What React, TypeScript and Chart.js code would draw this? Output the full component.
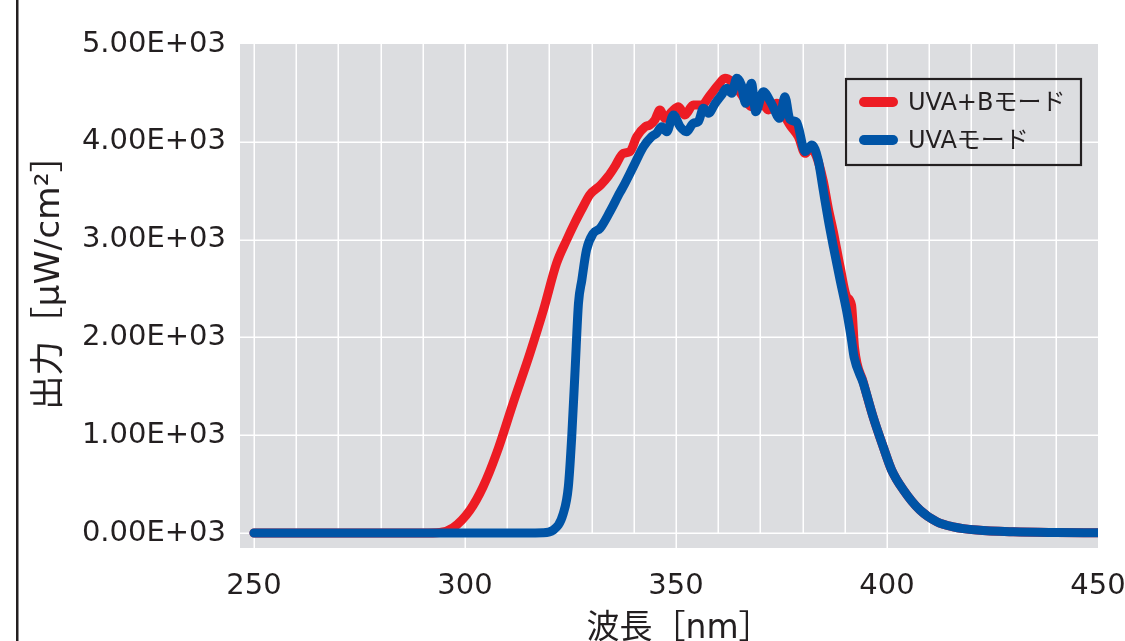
import React, { useEffect, useRef } from 'react';
import { Chart, registerables } from 'chart.js';

Chart.register(...registerables);

// ---------- data ----------
const seriesLabels = ['UVA+Bモード', 'UVAモード'];
const seriesColors = ['#ed1c24', '#0054a6'];

const xTickValues = [250, 300, 350, 400, 450];
const xTickLabels = ['250', '300', '350', '400', '450'];
const yTickValues = [0, 1000, 2000, 3000, 4000, 5000];
const yTickLabels = ['0.00E+03', '1.00E+03', '2.00E+03', '3.00E+03', '4.00E+03', '5.00E+03'];
const xAxisTitle = '波長［nm］';
const yAxisTitle = '出力［μW/cm²］';

const uvabWavelengths = [
  250, 260, 270, 280, 290, 294, 297.2, 301.2, 304.3, 307.5, 311.4, 315.4, 318.6, 321.7,
  324.1, 326, 328, 329.6, 332.2, 334, 335.5, 337.5, 339.1, 340.7, 342.7, 343.8, 345, 346.2,
  347.4, 349, 350.6, 352.1, 354.1, 356.1, 358.1, 360, 361.6, 363.2, 364.8, 366.4, 367.9,
  369.9, 371.9, 373.9, 375.4, 377, 379, 380.6, 381.8, 383.2, 384.9, 386.1, 387.3, 388.9,
  390.4, 391.6, 392.3, 394.4, 396.7, 399.1, 401.1, 403.9, 407.8, 411.8, 415.7, 421.3, 430,
  440, 450,
];
const uvabValues = [
  0, 0, 0, 0, 0, 5, 55, 235, 473, 815, 1326, 1837, 2280, 2757,
  2996, 3170, 3336, 3460, 3560, 3650, 3746, 3882, 3899, 4052, 4154, 4172, 4223, 4325,
  4240, 4308, 4359, 4274, 4376, 4376, 4478, 4581, 4649, 4615, 4530, 4427, 4359,
  4427, 4325, 4393, 4291, 4172, 4052, 3882, 3930, 3860, 3600, 3320, 3080, 2720,
  2420, 2330, 1900, 1540, 1189, 882, 644, 440, 235, 116, 64, 31, 12,
  5, 3,
];

const uvaWavelengths = [
  250, 260, 270, 280, 290, 300, 310, 318.5, 320.9, 323.3, 324.5, 325.3, 326.1, 326.9, 327.7,
  328.8, 330.4, 332, 334.4, 336.7, 337.5, 339.9, 342.3, 344.2, 345.4, 346.6, 347.8, 349.4,
  351, 352.5, 354.1, 355.3, 356.5, 357.7, 359.3, 360.8, 362, 363.2, 364.4, 365.5, 366.5,
  367.9, 368.9, 370.7, 372.6, 374.6, 375.8, 377, 378.6, 380.6, 382.2, 383.7, 384.9, 386.1,
  387.3, 388.9, 390.4, 391.6, 392.2, 394.4, 396.7, 399.1, 401.1, 403.9, 407.8, 411.8, 415.7,
  421.3, 430, 440, 450,
];
const uvaValues = [
  0, 0, 0, 0, 0, 0, 0, 3, 30, 200, 473, 985, 1667, 2349, 2587,
  2894, 3064, 3115, 3290, 3480, 3541, 3746, 3950, 4052, 4087, 4154, 4103, 4274,
  4154, 4103, 4189, 4206, 4342, 4291, 4393, 4478, 4547, 4496, 4649, 4581, 4393,
  4598, 4308, 4513, 4393, 4240, 4461, 4230, 4200, 3900, 3967, 3814, 3507, 3200,
  2928, 2587, 2280, 1973, 1800, 1531, 1189, 882, 644, 440, 235, 116, 64,
  31, 12, 5, 3,
];

// ---------- styling ----------
const PLOT_BG = '#dcdde0';
const TEXT_COLOR = '#231f20';
const TICK_FONT_FAMILY = "'DejaVu Sans', 'Noto Sans CJK JP', sans-serif";

const decorPlugin = {
  id: 'decor',
  beforeDraw(chart: any) {
    const { ctx, chartArea: a, scales } = chart;
    const x = scales.x;
    const y = scales.y;
    ctx.save();
    // outer frame line on the left
    ctx.fillStyle = TEXT_COLOR;
    ctx.fillRect(16, 0, 2.5, chart.height);
    // plot background
    ctx.fillStyle = PLOT_BG;
    ctx.fillRect(a.left, a.top, a.right - a.left, a.bottom - a.top);
    // grid
    ctx.strokeStyle = '#ffffff';
    ctx.lineWidth = 1.5;
    const zeroY = y.getPixelForValue(0);
    for (let v = 250; v < 450; v += 10) {
      const px = Math.round(x.getPixelForValue(v)) + 0.25;
      const bottom = v % 50 === 0 ? a.bottom : zeroY;
      ctx.beginPath();
      ctx.moveTo(px, a.top);
      ctx.lineTo(px, bottom);
      ctx.stroke();
    }
    for (const v of yTickValues) {
      if (v === 5000) continue;
      const py = Math.round(y.getPixelForValue(v)) + 0.25;
      ctx.beginPath();
      ctx.moveTo(a.left, py);
      ctx.lineTo(a.right, py);
      ctx.stroke();
    }
    // axis titles
    ctx.fillStyle = TEXT_COLOR;
    ctx.textAlign = 'center';
    ctx.textBaseline = 'middle';
    ctx.font = `33px ${TICK_FONT_FAMILY}`;
    ctx.fillText(xAxisTitle, (a.left + a.right) / 2 + 10, 629);
    ctx.save();
    ctx.font = `34.5px ${TICK_FONT_FAMILY}`;
    ctx.translate(50, 274);
    ctx.rotate(-Math.PI / 2);
    ctx.fillText(yAxisTitle, 0, 0);
    ctx.restore();
    ctx.restore();
  },
  afterDraw(chart: any) {
    const { ctx } = chart;
    ctx.save();
    // legend box
    ctx.strokeStyle = TEXT_COLOR;
    ctx.lineWidth = 2.2;
    ctx.strokeRect(846, 79, 235, 86);
    const rows = [0, 1];
    const rowY = [102, 140];
    ctx.font = `24px ${TICK_FONT_FAMILY}`;
    ctx.textAlign = 'left';
    ctx.textBaseline = 'middle';
    rows.forEach((i) => {
      const ds = chart.data.datasets[i];
      ctx.strokeStyle = ds.borderColor;
      ctx.lineWidth = 10;
      ctx.lineCap = 'round';
      ctx.beginPath();
      ctx.moveTo(864, rowY[i]);
      ctx.lineTo(893, rowY[i]);
      ctx.stroke();
      ctx.fillStyle = TEXT_COLOR;
      ctx.fillText(ds.label, 908, rowY[i] + 2);
    });
    ctx.restore();
  },
};

export default function App() {
  const canvasRef = useRef<HTMLCanvasElement | null>(null);

  useEffect(() => {
    const canvas = canvasRef.current;
    if (!canvas) return;
    const makeData = (xs: number[], ys: number[]) => xs.map((v, i) => ({ x: v, y: ys[i] }));
    const chart = new Chart(canvas, {
      type: 'line',
      data: {
        datasets: [
          {
            label: seriesLabels[0],
            data: makeData(uvabWavelengths, uvabValues),
            borderColor: seriesColors[0],
            backgroundColor: seriesColors[0],
            order: 1,
          },
          {
            label: seriesLabels[1],
            data: makeData(uvaWavelengths, uvaValues),
            borderColor: seriesColors[1],
            backgroundColor: seriesColors[1],
            order: 0,
          },
        ],
      },
      options: {
        responsive: false,
        animation: false,
        devicePixelRatio: 1,
        layout: { padding: { top: 44, right: 27, left: 0, bottom: 0 } },
        elements: {
          point: { radius: 0 },
          line: {
            borderWidth: 9,
            borderCapStyle: 'round',
            borderJoinStyle: 'round',
            cubicInterpolationMode: 'monotone',
          },
        },
        plugins: {
          legend: { display: false },
          tooltip: { enabled: false },
        },
        scales: {
          x: {
            type: 'linear',
            min: 246.7,
            max: 450,
            afterBuildTicks: (s: any) => {
              s.ticks = xTickValues.map((v) => ({ value: v }));
            },
            afterFit: (s: any) => {
              s.height = 93;
              s.paddingLeft = 0;
              s.paddingRight = 0;
            },
            grid: { display: false, drawTicks: false },
            border: { display: false },
            ticks: {
              autoSkip: false,
              maxRotation: 0,
              padding: 21,
              color: TEXT_COLOR,
              font: { family: TICK_FONT_FAMILY, size: 29 },
              callback: (v: any) => {
                const i = xTickValues.indexOf(Number(v));
                return i >= 0 ? xTickLabels[i] : '';
              },
            },
          },
          y: {
            type: 'linear',
            min: -153,
            max: 5000,
            afterBuildTicks: (s: any) => {
              s.ticks = yTickValues.map((v) => ({ value: v }));
            },
            afterFit: (s: any) => {
              s.width = 240;
              s.paddingTop = 0;
              s.paddingBottom = 0;
            },
            grid: { display: false, drawTicks: false },
            border: { display: false },
            ticks: {
              autoSkip: false,
              padding: 14,
              color: TEXT_COLOR,
              font: { family: TICK_FONT_FAMILY, size: 29 },
              callback: (v: any) => {
                const i = yTickValues.indexOf(Number(v));
                return i >= 0 ? yTickLabels[i] : '';
              },
            },
          },
        },
      },
      plugins: [decorPlugin],
    } as any);
    return () => chart.destroy();
  }, []);

  return (
    <div style={{ position: 'absolute', left: 0, top: 0, width: 1125, height: 641, background: '#ffffff', overflow: 'hidden' }}>
      <canvas ref={canvasRef} width={1125} height={641} style={{ display: 'block' }} />
    </div>
  );
}
